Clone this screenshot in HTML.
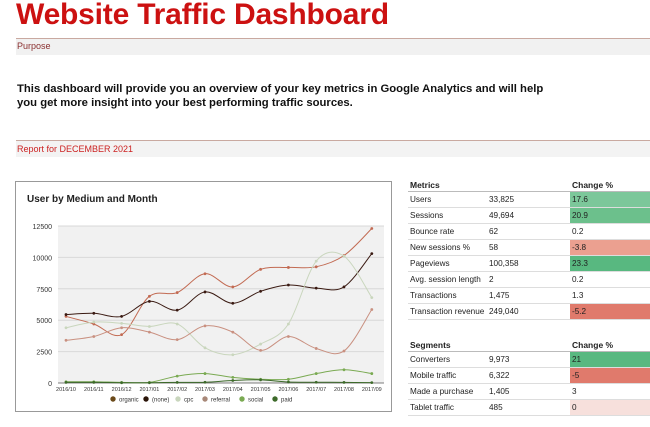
<!DOCTYPE html>
<html><head><meta charset="utf-8"><style>
body{margin:0;width:650px;height:427px;background:#fff;font-family:"Liberation Sans",Arial,sans-serif;position:relative;overflow:hidden}
.a{position:absolute}
table{border-collapse:collapse;font-size:8.2px;color:#222;table-layout:fixed}
td{height:15px;padding:0 0 0 2px;border-bottom:1px solid #ddd;white-space:nowrap;overflow:visible}
th{text-align:left;font-weight:bold;height:12px;padding:0 0 0 2px;border-bottom:1px solid #bbb;font-size:8.5px;white-space:nowrap}
</style></head><body>
<div class="a" style="left:16px;top:-1px;font-size:30px;font-weight:bold;color:#cc1111;letter-spacing:-0.2px;line-height:31px">Website Traffic Dashboard</div>
<div class="a" style="left:16px;top:38px;width:634px;height:16px;background:#f1f1f1;border-top:1px solid #c9a9a0;font-size:9px;color:#8a3030;line-height:15px;padding-left:1px">Purpose</div>
<div class="a" style="left:17px;top:82px;font-size:11.3px;font-weight:bold;color:#111;line-height:14px;width:630px">This dashboard will provide you an overview of your key metrics in Google Analytics and will help<br>you get more insight into your best performing traffic sources.</div>
<div class="a" style="left:16px;top:140px;width:634px;height:16px;background:#f3f3f3;border-top:1px solid #c9a9a0;font-size:9px;color:#cc2222;line-height:17px;padding-left:1px">Report for DECEMBER 2021</div>
<div class="a" style="left:15px;top:181px;width:375px;height:229px;border:1px solid #999;background:#fff"></div>
<svg class="a" style="left:0;top:0" width="650" height="427" id="s"></svg>
<table class="a" style="left:408px;top:179px;width:242px">
<colgroup><col style="width:79px"><col style="width:83px"><col style="width:80px"></colgroup>
<tr><th>Metrics</th><th></th><th>Change %</th></tr>
<tr><td>Users</td><td>33,825</td><td style="background:#7cc79a">17.6</td></tr>
<tr><td>Sessions</td><td>49,694</td><td style="background:#6cc08c">20.9</td></tr>
<tr><td>Bounce rate</td><td>62</td><td>0.2</td></tr>
<tr><td>New sessions %</td><td>58</td><td style="background:#eba090">-3.8</td></tr>
<tr><td>Pageviews</td><td>100,358</td><td style="background:#58b880">23.3</td></tr>
<tr><td>Avg. session length</td><td>2</td><td>0.2</td></tr>
<tr><td>Transactions</td><td>1,475</td><td>1.3</td></tr>
<tr><td>Transaction revenue</td><td>249,040</td><td style="background:#e07a6c">-5.2</td></tr>
</table>
<table class="a" style="left:408px;top:339px;width:242px">
<colgroup><col style="width:79px"><col style="width:83px"><col style="width:80px"></colgroup>
<tr><th>Segments</th><th></th><th>Change %</th></tr>
<tr><td>Converters</td><td>9,973</td><td style="background:#58b880">21</td></tr>
<tr><td>Mobile traffic</td><td>6,322</td><td style="background:#e07a6c">-5</td></tr>
<tr><td>Made a purchase</td><td>1,405</td><td>3</td></tr>
<tr><td>Tablet traffic</td><td>485</td><td style="background:#f7e0dc">0</td></tr>
</table>
<script>
const s=document.getElementById('s');let h='';
const X0=66,DX=27.8,Y0=383,K=157/12500;
h+='<rect x="58" y="226" width="326" height="157" fill="#f1f1f1"/>';
for(let v=0;v<=12500;v+=2500){const y=Y0-v*K;h+=`<line x1="58" x2="384" y1="${y}" y2="${y}" stroke="${v?'#d8d8d8':'#555'}" stroke-width="${v?1:0.8}"/><text x="52" y="${y+3}" font-size="7" text-anchor="end" fill="#333">${v}</text>`;}
const lab=['2016/10','2016/11','2016/12','2017/01','2017/02','2017/03','2017/04','2017/05','2017/06','2017/07','2017/08','2017/09'];
lab.forEach((l,i)=>h+=`<text x="${X0+i*DX}" y="391" font-size="5.5" text-anchor="middle" fill="#333">${l}</text>`);
const S=[
['#c26a52',[5300,4700,3850,6900,7200,8700,7650,9050,9200,9250,10150,12300]],
['#3a1a12',[5450,5550,5300,6500,5800,7250,6350,7300,7800,7550,7650,10300]],
['#c9d6bd',[4400,4850,4750,4500,4700,2800,2250,3100,4700,9700,10100,6800]],
['#c99080',[3400,3700,4400,4050,3450,4550,4050,2600,3700,2750,2550,5850]],
['#7aaa52',[100,100,50,50,550,750,450,300,300,750,1050,750]],
['#3d6a2a',[50,50,20,20,50,60,200,250,80,60,50,30]]];
S.forEach(([c,d])=>{const p=d.map((v,i)=>[X0+i*DX,Y0-v*K]);let str=`M${p[0]}`;
for(let i=0;i<p.length-1;i++){const a=p[i-1]||p[i],b=p[i],e=p[i+1],f=p[i+2]||e;
str+=`C${b[0]+(e[0]-a[0])/6},${b[1]+(e[1]-a[1])/6} ${e[0]-(f[0]-b[0])/6},${e[1]-(f[1]-b[1])/6} ${e[0]},${e[1]}`;}
h+=`<path d="${str}" fill="none" stroke="${c}" stroke-width="1"/>`;p.forEach(q=>h+=`<circle cx="${q[0]}" cy="${q[1]}" r="1.4" fill="${c}"/>`);});
const L=[['organic','#6b4a1a'],['(none)','#2a1408'],['cpc','#c9d6bd'],['referral','#a88878'],['social','#7aaa52'],['paid','#3d6a2a']];
const LX=[113,146,178,205,242,275];
L.forEach(([n,c],i)=>h+=`<circle cx="${LX[i]}" cy="399" r="2.7" fill="${c}"/><text x="${LX[i]+6}" y="401.5" font-size="6" fill="#333">${n}</text>`);
h+='<text x="27" y="202" font-size="10" font-weight="bold" fill="#222">User by Medium and Month</text>';
s.innerHTML=h;
</script>
</body></html>
